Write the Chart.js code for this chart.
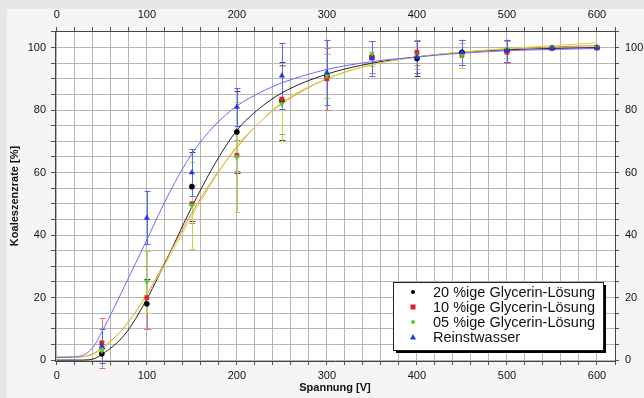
<!DOCTYPE html>
<html>
<head>
<meta charset="utf-8">
<script src="https://cdn.jsdelivr.net/npm/chart.js@4.4.1/dist/chart.umd.min.js"></script>
<style>
html,body{margin:0;padding:0;background:#e9e6e6;}
#c{display:block;}
</style>
</head>
<body>
<canvas id="c" width="644" height="398"></canvas>
<script>
// ---- data ----
const voltages = [50, 100, 150, 200, 250, 300, 350, 400, 450, 500, 550, 600];
const glyc20 = [2, 18, 55.5, 73, 83, 91, 97, 96.5, 98.5, 99, 99.8, 100];
const glyc10 = [5.5, 20, 50, 65.5, 83.5, 90, 97, 98.5, 97.5, 98.5, 99.8, 100];
const glyc05 = [3, 25, 49.5, 65, 82, 91, 98, 97.5, 97.5, 99.5, 100, 100];
const pure   = [4.5, 45.5, 60, 81, 91, 92, 96.5, 97, 98.5, 99, 99.8, 99.8];

const err20 = [2, 8, 11, 13, 12.5, 7, 5, 5.5, 4, 3.5, 0, 0];
const err10 = [8, 10, 6, 5, 11, 10, 5, 4, 4, 3.5, 0, 0];
const err05 = [3, 10, 14, 17.5, 12, 7, 4, 4.5, 4, 3, 0, 0];
const errPure = [5.5, 8.5, 7.5, 6, 10.5, 10.5, 5.5, 5, 4, 3.5, 0, 0];

const fitX   = [0, 25, 40, 50, 75, 100, 125, 150, 175, 200, 225, 250, 300, 350, 400, 450, 500, 550, 600];
const fit20  = [0, 0, 0.3, 1.8, 8, 19.5, 34, 49, 62.5, 73.5, 80.5, 85.5, 91.5, 95, 97, 98.5, 99.3, 99.7, 100];
const fit10  = [1, 1, 2, 3.8, 10.5, 21, 34, 47, 58.5, 68, 76, 82, 90, 94.5, 97, 98.5, 99.5, 100.2, 100.6];
const fit05  = [0.8, 0.9, 1.8, 3.5, 10.5, 21, 33, 46, 58, 68.5, 76, 82.5, 90, 94.5, 97, 98.6, 99.7, 100.6, 101.5];
const fitPure= [0.8, 1.2, 4, 9, 23.5, 38.5, 53.5, 66, 75, 81.3, 85.5, 88.7, 93, 95.5, 97, 98.2, 99, 99.4, 99.7];

const xTickLabels = [0, 100, 200, 300, 400, 500, 600];
const yTickLabels = [0, 20, 40, 60, 80, 100];
const seriesNames = ['20 %ige Glycerin-Lösung', '10 %ige Glycerin-Lösung', '05 %ige Glycerin-Lösung', 'Reinstwasser'];

// ---- build datasets ----
const pts = (xs, ys) => xs.map((x, i) => ({x: x, y: ys[i]}));

const markerColors = ['#000000', '#e02222', '#55cc33', '#2233ee'];
const errColors = ['#444444', '#e07070', '#b8d84a', '#5566ff'];
const lineColors = ['#222222', '#e0884a', '#d8d830', '#6a6aff'];
const shapes = ['circle', 'rect', 'triangle', 'triangle'];
const rotations = [0, 0, 180, 0];
const radii = [2.6, 3, 3, 3];
const values = [glyc20, glyc10, glyc05, pure];
const errs = [err20, err10, err05, errPure];
const fits = [fit20, fit10, fit05, fitPure];

const datasets = [];
fits.forEach((f, i) => {
  datasets.push({
    label: 'fit ' + seriesNames[i],
    data: pts(fitX, f),
    showLine: true,
    borderColor: lineColors[i],
    borderWidth: 1,
    pointRadius: 0,
    cubicInterpolationMode: 'monotone',
    fill: false,
    order: 10 - i
  });
});
values.forEach((v, i) => {
  datasets.push({
    label: seriesNames[i],
    data: pts(voltages, v),
    showLine: false,
    pointStyle: shapes[i],
    rotation: rotations[i],
    pointRadius: radii[i],
    backgroundColor: markerColors[i],
    borderColor: markerColors[i],
    borderWidth: 0.5,
    errors: errs[i],
    errColor: errColors[i],
    order: 4 - i
  });
});

const bgPlugin = {
  id: 'bg',
  beforeDraw(chart) {
    const {ctx, chartArea: a} = chart;
    ctx.save();
    ctx.fillStyle = '#e9e6e6';
    ctx.fillRect(0, 0, chart.width, chart.height);
    ctx.fillStyle = '#f6f5f5';
    ctx.fillRect(7, 9, chart.width - 7, chart.height - 9);
    ctx.fillStyle = '#ffffff';
    ctx.fillRect(a.left, a.top, a.right - a.left, a.bottom - a.top);
    ctx.restore();
  }
};

const errPlugin = {
  id: 'errbars',
  beforeDatasetsDraw(chart) {
    const {ctx} = chart;
    const xs = chart.scales.x, ys = chart.scales.y;
    ctx.save();
    ctx.lineWidth = 1;
    chart.data.datasets.forEach(ds => {
      if (!ds.errors) return;
      ctx.strokeStyle = ds.errColor;
      ds.data.forEach((p, i) => {
        const e = ds.errors[i];
        if (!e) return;
        const px = Math.round(xs.getPixelForValue(p.x)) + 0.5;
        const y1 = ys.getPixelForValue(p.y - e);
        const y2 = ys.getPixelForValue(p.y + e);
        ctx.beginPath();
        ctx.moveTo(px, y1); ctx.lineTo(px, y2);
        ctx.moveTo(px - 3, Math.round(y1) + 0.5); ctx.lineTo(px + 3, Math.round(y1) + 0.5);
        ctx.moveTo(px - 3, Math.round(y2) + 0.5); ctx.lineTo(px + 3, Math.round(y2) + 0.5);
        ctx.stroke();
      });
    });
    ctx.restore();
  }
};

const legendPlugin = {
  id: 'boxLegend',
  afterDraw(chart) {
    const {ctx, chartArea: a} = chart;
    const w = 210, h = 68;
    const left = a.right - 222, top = a.bottom - 79;
    ctx.save();
    ctx.fillStyle = '#000';
    ctx.fillRect(left + 3, top + 3, w, h);
    ctx.fillStyle = '#fff';
    ctx.fillRect(left, top, w, h);
    ctx.strokeStyle = '#222';
    ctx.lineWidth = 1;
    ctx.strokeRect(left + 0.5, top + 0.5, w, h);
    ctx.font = '14.5px "Liberation Sans", Arial, Helvetica, sans-serif';
    ctx.textBaseline = 'middle';
    seriesNames.forEach((name, i) => {
      const cy = top + 10 + i * 15;
      const mx = left + 20;
      ctx.fillStyle = markerColors[i];
      if (i === 0 || i === 2) {
        ctx.beginPath(); ctx.arc(mx, cy, 2, 0, Math.PI * 2); ctx.fill();
      } else if (i === 1) {
        ctx.fillRect(mx - 2.5, cy - 2.5, 5, 5);
      } else {
        ctx.beginPath(); ctx.moveTo(mx, cy - 3); ctx.lineTo(mx + 3, cy + 2.5); ctx.lineTo(mx - 3, cy + 2.5); ctx.closePath(); ctx.fill();
      }
      ctx.fillStyle = '#111';
      ctx.fillText(name, left + 40, cy + 0.5);
    });
    ctx.restore();
  }
};

const tickFont = {family: '"Liberation Sans", Arial, Helvetica, sans-serif', size: 11};
const titleFont = {family: '"Liberation Sans", Arial, Helvetica, sans-serif', size: 11, weight: 'bold'};
const xLabel = v => xTickLabels.includes(v) ? String(v) : '';
const yLabel = v => yTickLabels.includes(v) ? String(v) : '';
const gridCol = '#b5b5b5';

function stepTicks(from, to, step) {
  const t = [];
  for (let v = from; v <= to + 1e-9; v += step) t.push({value: v});
  return t;
}

function xAxis(pos, main) {
  return {
    type: 'linear', position: pos, min: -2, max: 620,
    afterBuildTicks(s) { s.ticks = stepTicks(0, 620, 20); },
    ticks: {autoSkip: false, maxRotation: 0, callback: xLabel, font: tickFont, color: '#111', padding: main ? 4 : 5},
    grid: {display: true, drawOnChartArea: main, color: gridCol, tickColor: '#555', tickLength: 4},
    border: {display: true, color: '#444'},
    title: main ? {display: true, text: 'Spannung [V]', font: titleFont, color: '#111', padding: {top: 0, bottom: 3}} : {display: false},
    afterFit(s) { s.height = main ? 37 : 31; }
  };
}
function yAxis(pos, main) {
  return {
    type: 'linear', position: pos, min: -0.3, max: 105.3,
    afterBuildTicks(s) { s.ticks = stepTicks(0, 105, 5); },
    ticks: {autoSkip: false, callback: yLabel, font: tickFont, color: '#111', padding: main ? 5 : 6},
    grid: {display: true, drawOnChartArea: main, color: gridCol, tickColor: '#555', tickLength: 4},
    border: {display: true, color: '#444'},
    title: main ? {display: true, text: 'Koaleszenzrate [%]', font: titleFont, color: '#111', padding: {top: 8, bottom: 0}} : {display: false},
    afterFit(s) { s.width = main ? 55 : 29; }
  };
}

new Chart(document.getElementById('c'), {
  type: 'scatter',
  data: {datasets: datasets},
  options: {
    responsive: false,
    animation: false,
    devicePixelRatio: 1,
    layout: {padding: 0},
    plugins: {legend: {display: false}, tooltip: {enabled: false}},
    scales: {
      x: xAxis('bottom', true),
      x2: xAxis('top', false),
      y: yAxis('left', true),
      y2: yAxis('right', false)
    }
  },
  plugins: [bgPlugin, errPlugin, legendPlugin]
});
</script>
</body>
</html>
